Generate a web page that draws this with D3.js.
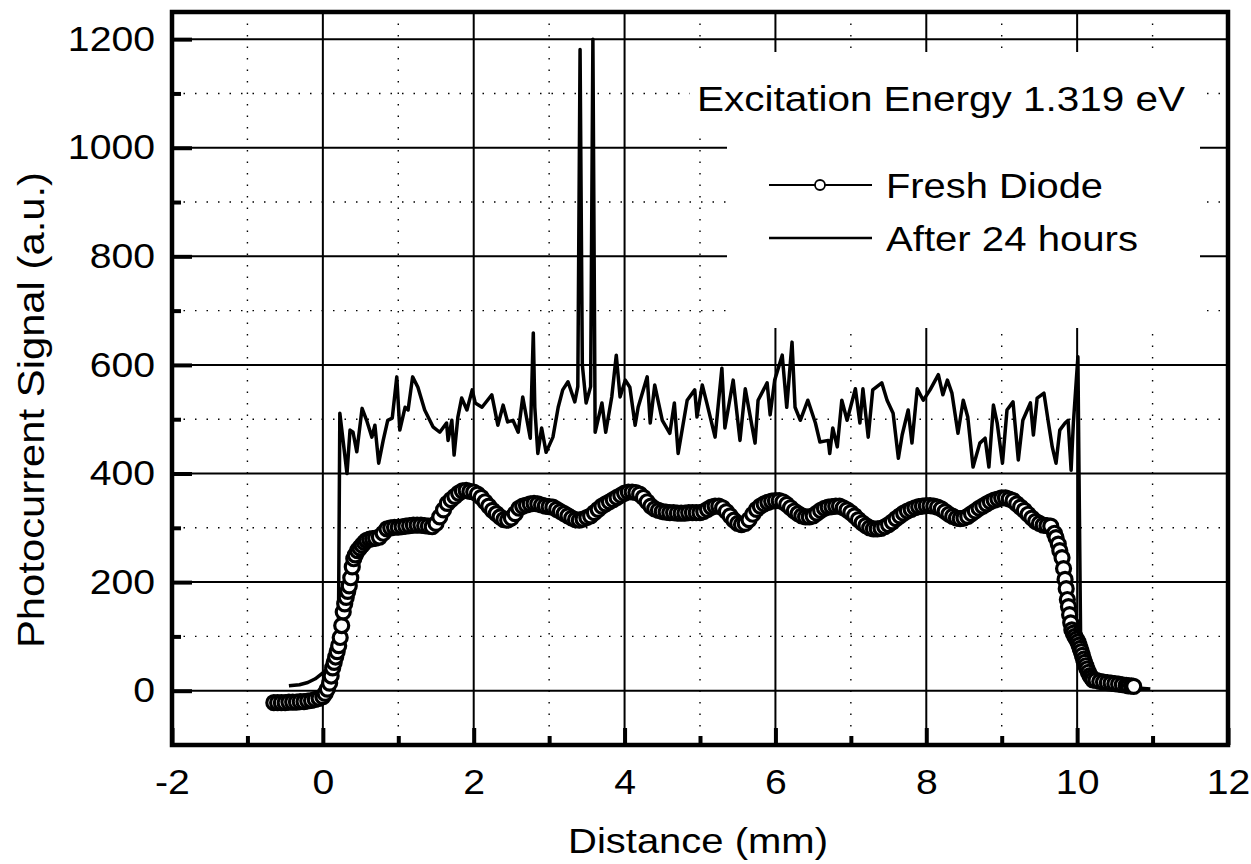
<!DOCTYPE html>
<html>
<head>
<meta charset="utf-8">
<script src="https://cdn.jsdelivr.net/npm/d3@7"></script>
<style>
  body { margin: 0; background: #fff; }
  svg { display: block; }
  text { font-family: "Liberation Sans", Arial, Helvetica, sans-serif; fill: #000; }
</style>
</head>
<body>
<div id="chart"></div>
<script>
// tick values
const xMajor = [-2, 0, 2, 4, 6, 8, 10, 12];
const xMinor = [-1, 1, 3, 5, 7, 9, 11];
const yMajor = [0, 200, 400, 600, 800, 1000, 1200];
const yMinor = [100, 300, 500, 700, 900, 1100];

// labels
const titleText = "Excitation Energy 1.319 eV";
const legendLabels = ["Fresh Diode", "After 24 hours"];
const xLabel = "Distance (mm)";
const yLabel = "Photocurrent Signal (a.u.)";

// Fresh Diode (open circles)
const freshX = [-0.65, -0.6, -0.55, -0.5, -0.45, -0.4, -0.35, -0.3, -0.25, -0.2, -0.15, -0.1, -0.05, 0, 0.03, 0.06, 0.09, 0.11, 0.13, 0.15, 0.17, 0.19, 0.21, 0.23, 0.25, 0.27, 0.29, 0.31, 0.33, 0.35, 0.37, 0.39, 0.41, 0.43, 0.46, 0.49, 0.52, 0.55, 0.58, 0.62, 0.66, 0.7, 0.75, 0.8, 0.85, 0.9, 0.95, 1.0, 1.05, 1.1, 1.15, 1.2, 1.25, 1.3, 1.35, 1.4, 1.45, 1.5, 1.55, 1.6, 1.65, 1.7, 1.75, 1.8, 1.85, 1.9, 1.95, 2.0, 2.05, 2.1, 2.15, 2.2, 2.25, 2.3, 2.35, 2.4, 2.45, 2.5, 2.55, 2.6, 2.65, 2.7, 2.75, 2.8, 2.85, 2.9, 2.95, 3.0, 3.05, 3.1, 3.15, 3.2, 3.25, 3.3, 3.35, 3.4, 3.45, 3.5, 3.55, 3.6, 3.65, 3.7, 3.75, 3.8, 3.85, 3.9, 3.95, 4.0, 4.05, 4.1, 4.15, 4.2, 4.25, 4.3, 4.35, 4.4, 4.45, 4.5, 4.55, 4.6, 4.65, 4.7, 4.75, 4.8, 4.85, 4.9, 4.95, 5.0, 5.05, 5.1, 5.15, 5.2, 5.25, 5.3, 5.35, 5.4, 5.45, 5.5, 5.55, 5.6, 5.65, 5.7, 5.75, 5.8, 5.85, 5.9, 5.95, 6.0, 6.05, 6.1, 6.15, 6.2, 6.25, 6.3, 6.35, 6.4, 6.45, 6.5, 6.55, 6.6, 6.65, 6.7, 6.75, 6.8, 6.85, 6.9, 6.95, 7.0, 7.05, 7.1, 7.15, 7.2, 7.25, 7.3, 7.35, 7.4, 7.45, 7.5, 7.55, 7.6, 7.65, 7.7, 7.75, 7.8, 7.85, 7.9, 7.95, 8.0, 8.05, 8.1, 8.15, 8.2, 8.25, 8.3, 8.35, 8.4, 8.45, 8.5, 8.55, 8.6, 8.65, 8.7, 8.75, 8.8, 8.85, 8.9, 8.95, 9.0, 9.05, 9.1, 9.15, 9.2, 9.25, 9.3, 9.35, 9.4, 9.45, 9.5, 9.55, 9.6, 9.65, 9.7, 9.72, 9.75, 9.77, 9.8, 9.82, 9.84, 9.855, 9.87, 9.885, 9.9, 9.915, 9.93, 9.95, 9.97, 9.99, 10.01, 10.025, 10.04, 10.055, 10.07, 10.085, 10.1, 10.115, 10.13, 10.15, 10.17, 10.19, 10.21, 10.25, 10.3, 10.35, 10.4, 10.45, 10.5, 10.55, 10.6, 10.65, 10.68, 10.72, 10.75];
const freshY = [-22, -22, -22, -22, -21, -21, -21, -20, -20, -19, -18, -16, -14, -11, -5, 3, 14, 27, 42, 52, 62, 72, 83, 98, 120, 145, 160, 172, 183, 193, 208, 228, 243, 250, 258, 263, 268, 273, 277, 279, 280, 281, 283, 290, 298, 300, 301, 301, 302, 303, 304, 305, 305, 305, 304, 303, 302, 308, 320, 333, 345, 352, 358, 364, 368, 369, 367, 366, 362, 356, 348, 340, 332, 326, 320, 315, 314, 318, 326, 336, 340, 342, 344, 345, 344, 342, 340, 339, 338, 334, 330, 326, 322, 318, 315, 314, 316, 319, 322, 328, 334, 340, 344, 348, 352, 356, 360, 364, 366, 366, 365, 362, 356, 348, 340, 335, 332, 330, 329, 328, 328, 327, 327, 327, 328, 328, 328, 328, 330, 334, 338, 340, 340, 337, 330, 322, 314, 308, 306, 308, 315, 325, 334, 340, 344, 347, 349, 350, 350, 348, 343, 337, 331, 326, 322, 320, 320, 322, 327, 332, 336, 338, 339, 340, 340, 337, 333, 328, 322, 315, 309, 304, 300, 298, 298, 299, 302, 306, 311, 317, 322, 327, 331, 334, 337, 339, 340, 341, 341, 340, 338, 335, 330, 325, 321, 318, 317, 318, 321, 326, 331, 336, 340, 344, 348, 351, 353, 355, 355, 353, 350, 344, 338, 332, 325, 318, 312, 308, 305, 304, 303, 290, 282, 270, 258, 245, 225, 205, 188, 168, 155, 140, 125, 112, 106, 100, 95, 90, 84, 78, 72, 65, 58, 52, 46, 40, 34, 28, 24, 20, 19, 17, 16, 15, 14, 13, 12, 11, 10, 9, 9, 8];

// After 24 hours (solid line)
const afterX = [-0.45, -0.31, -0.2, -0.1, 0, 0.09, 0.17, 0.205, 0.225, 0.32, 0.36, 0.4, 0.45, 0.52, 0.58, 0.65, 0.69, 0.74, 0.8, 0.86, 0.92, 0.98, 1.02, 1.09, 1.13, 1.19, 1.26, 1.35, 1.46, 1.55, 1.64, 1.66, 1.71, 1.74, 1.79, 1.84, 1.91, 1.98, 2.02, 2.11, 2.24, 2.32, 2.39, 2.45, 2.52, 2.59, 2.65, 2.75, 2.79, 2.81, 2.85, 2.9, 2.96, 3.05, 3.12, 3.18, 3.25, 3.34, 3.38, 3.41, 3.44, 3.49, 3.55, 3.58, 3.61, 3.7, 3.75, 3.83, 3.89, 3.94, 4.01, 4.07, 4.14, 4.18, 4.3, 4.34, 4.4, 4.5, 4.6, 4.66, 4.71, 4.83, 4.93, 4.96, 5.03, 5.09, 5.2, 5.29, 5.33, 5.44, 5.53, 5.6, 5.73, 5.77, 5.89, 5.93, 5.99, 6.09, 6.15, 6.22, 6.26, 6.33, 6.43, 6.53, 6.59, 6.7, 6.72, 6.76, 6.82, 6.88, 6.95, 7.06, 7.12, 7.16, 7.23, 7.29, 7.41, 7.48, 7.56, 7.63, 7.68, 7.76, 7.81, 7.88, 7.96, 8.05, 8.16, 8.22, 8.28, 8.34, 8.42, 8.49, 8.55, 8.62, 8.71, 8.78, 8.83, 8.89, 8.94, 9.01, 9.07, 9.15, 9.22, 9.28, 9.38, 9.42, 9.47, 9.56, 9.62, 9.67, 9.72, 9.77, 9.84, 9.88, 9.92, 9.95, 10.01, 10.05, 10.1, 10.2, 10.4, 10.6, 10.8, 10.97];
const afterY = [9, 11, 15, 22, 33, 45, 60, 75, 511, 400, 480, 476, 440, 520, 498, 467, 489, 419, 461, 498, 502, 578, 480, 522, 517, 578, 559, 517, 486, 476, 493, 461, 498, 434, 504, 539, 517, 554, 530, 522, 545, 489, 526, 495, 498, 476, 541, 465, 659, 522, 437, 484, 439, 467, 522, 554, 569, 532, 560, 1181, 600, 530, 560, 1200, 476, 530, 476, 541, 618, 541, 572, 559, 489, 522, 578, 493, 563, 498, 474, 530, 437, 535, 554, 504, 563, 530, 467, 594, 484, 572, 461, 556, 456, 535, 567, 508, 572, 618, 522, 642, 522, 498, 535, 493, 458, 461, 437, 484, 449, 535, 498, 556, 493, 556, 467, 554, 567, 535, 511, 428, 471, 517, 456, 556, 535, 554, 582, 545, 572, 548, 474, 535, 504, 412, 456, 465, 412, 526, 493, 419, 517, 532, 425, 498, 530, 471, 539, 548, 493, 449, 419, 480, 493, 498, 406, 493, 615, 40, 28, 18, 11, 7, 5, 3];

function createChart() {
    const width = 1251;
    const height = 864;
    const left = 172, right = 1228, top = 12, bottom = 745;

    const x = d3.scaleLinear().domain([-2, 12]).range([left, right]);
    const y = d3.scaleLinear().domain([-100, 1250]).range([bottom, top]);

    const svg = d3.create("svg")
        .attr("width", width)
        .attr("height", height)
        .attr("viewBox", `0 0 ${width} ${height}`);

    svg.append("rect").attr("width", width).attr("height", height).attr("fill", "#fff");

    // dotted grid (odd values)
    const grid = svg.append("g");
    grid.selectAll(".vdot").data(xMinor).join("line")
        .attr("x1", d => x(d)).attr("x2", d => x(d))
        .attr("y1", top).attr("y2", bottom)
        .attr("stroke", "#000").attr("stroke-width", 1.4)
        .attr("stroke-dasharray", "1.5,10");
    grid.selectAll(".hdot").data(yMinor).join("line")
        .attr("x1", left).attr("x2", right)
        .attr("y1", d => y(d)).attr("y2", d => y(d))
        .attr("stroke", "#000").attr("stroke-width", 1.4)
        .attr("stroke-dasharray", "1.5,10");

    // solid grid
    grid.selectAll(".vsol").data(xMajor.slice(1, -1)).join("line")
        .attr("x1", d => x(d)).attr("x2", d => x(d))
        .attr("y1", top).attr("y2", bottom)
        .attr("stroke", "#000").attr("stroke-width", 2);
    grid.selectAll(".hsol").data(yMajor).join("line")
        .attr("x1", left).attr("x2", right)
        .attr("y1", d => y(d)).attr("y2", d => y(d))
        .attr("stroke", "#000").attr("stroke-width", 2);

    // white boxes behind the annotation text
    svg.append("rect").attr("x", 690).attr("y", 52).attr("width", 510).attr("height", 78).attr("fill", "#fff");
    svg.append("rect").attr("x", 727).attr("y", 128).attr("width", 473).attr("height", 200).attr("fill", "#fff");

    // After 24 hours
    const afterData = afterX.map((d, i) => [d, afterY[i]]);
    svg.append("path")
        .datum(afterData)
        .attr("fill", "none")
        .attr("stroke", "#000")
        .attr("stroke-width", 3.5)
        .attr("stroke-linejoin", "round")
        .attr("d", d3.line().x(d => x(d[0])).y(d => y(d[1])));

    // Fresh Diode
    const freshData = freshX.map((d, i) => [d, freshY[i]]);
    svg.append("g").selectAll("circle")
        .data(freshData)
        .join("circle")
        .attr("cx", d => x(d[0]))
        .attr("cy", d => y(d[1]))
        .attr("r", 7)
        .attr("fill", "#fff")
        .attr("stroke", "#000")
        .attr("stroke-width", 3.2);

    // axes
    const sx = 1.12;
    const fmt = d => String(d);
    const yAxis = svg.append("g")
        .attr("transform", `translate(${left},0)`)
        .call(d3.axisLeft(y).tickValues(yMajor).tickFormat(fmt).tickSize(-20).tickPadding(17));
    svg.append("g")
        .attr("transform", `translate(${left},0)`)
        .call(d3.axisLeft(y).tickValues(yMinor).tickSize(-9).tickFormat(""));
    const xAxis = svg.append("g")
        .attr("transform", `translate(0,${bottom})`)
        .call(d3.axisBottom(x).tickValues(xMajor).tickFormat(fmt).tickSize(-17).tickPadding(24));
    svg.append("g")
        .attr("transform", `translate(0,${bottom})`)
        .call(d3.axisBottom(x).tickValues(xMinor).tickSize(-9).tickFormat(""));

    svg.selectAll(".domain").remove();
    svg.selectAll(".tick line").attr("stroke", "#000").attr("stroke-width", 4);
    yAxis.selectAll("text")
        .attr("font-size", 35)
        .attr("x", -17 / sx)
        .attr("transform", `scale(${sx},1)`);
    xAxis.selectAll("text")
        .attr("font-size", 35)
        .attr("transform", `scale(${sx},1)`);

    // frame
    svg.append("rect")
        .attr("x", left).attr("y", top)
        .attr("width", right - left).attr("height", bottom - top)
        .attr("fill", "none").attr("stroke", "#000").attr("stroke-width", 4.5);

    // axis labels
    svg.append("text")
        .attr("x", 698).attr("y", 853)
        .attr("text-anchor", "middle")
        .attr("font-size", 35)
        .attr("textLength", 260).attr("lengthAdjust", "spacingAndGlyphs")
        .text(xLabel);
    svg.append("text")
        .attr("transform", "translate(44,410) rotate(-90)")
        .attr("text-anchor", "middle")
        .attr("font-size", 36)
        .attr("textLength", 476).attr("lengthAdjust", "spacingAndGlyphs")
        .text(yLabel);

    // title
    svg.append("text")
        .attr("x", 697).attr("y", 111)
        .attr("font-size", 35)
        .attr("textLength", 488).attr("lengthAdjust", "spacingAndGlyphs")
        .text(titleText);

    // legend
    const legend = svg.append("g");
    const legendY = [185, 238];
    const legendW = [217, 252];
    legendLabels.forEach((lab, i) => {
        legend.append("line")
            .attr("x1", 769).attr("x2", 872)
            .attr("y1", legendY[i]).attr("y2", legendY[i])
            .attr("stroke", "#000").attr("stroke-width", i === 0 ? 2 : 2.5);
        if (i === 0) {
            legend.append("circle")
                .attr("cx", 820).attr("cy", legendY[i]).attr("r", 5)
                .attr("fill", "#fff").attr("stroke", "#000").attr("stroke-width", 1.8);
        }
        legend.append("text")
            .attr("x", 886).attr("y", legendY[i] + 13)
            .attr("font-size", 35)
            .attr("textLength", legendW[i]).attr("lengthAdjust", "spacingAndGlyphs")
            .text(lab);
    });

    return svg.node();
}

document.getElementById("chart").appendChild(createChart());
</script>
</body>
</html>
